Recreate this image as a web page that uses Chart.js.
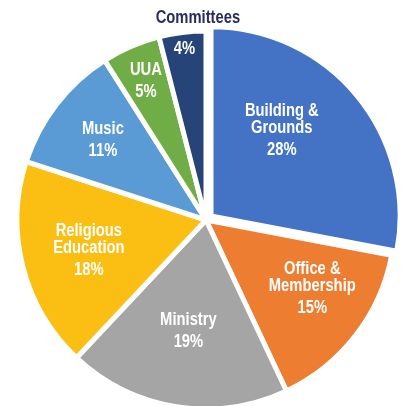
<!DOCTYPE html>
<html>
<head>
<meta charset="utf-8">
<script src="https://cdn.jsdelivr.net/npm/chart.js@4"></script>
<style>
  html, body { margin: 0; padding: 0; background: #fff; }
  #wrap { width: 402px; height: 406px; }
</style>
</head>
<body>
<div id="wrap"><canvas id="budgetPie"></canvas></div>
<script>
const categories = ['Building & Grounds', 'Office & Membership', 'Ministry', 'Religious Education', 'Music', 'UUA', 'Committees'];
const shares = [28, 15, 19, 18, 11, 5, 4];
const nameLines = [['Building &', 'Grounds'], ['Office &', 'Membership'], ['Ministry'], ['Religious', 'Education'], ['Music'], ['UUA'], ['Committees']];
const sliceColors = ['#4472c4', '#ed7d31', '#a5a5a5', '#fbbf14', '#5b9bd5', '#70ad47', '#264478'];

// where each label sits: fraction of radius, fraction along the slice
const labelRadius = [0.62, 0.67, 0.595, 0.64, 0.69, 0.80, 0.91];
const labelAlong = [0.40, 0.41, 0.5, 0.5, 0.5, 0.5, 0.5];
const nameOutside = [false, false, false, false, false, false, true];

const FONT = "bold 18px 'Liberation Sans', Arial, sans-serif";
const SQUEEZE = 0.82; // fake a condensed face

function narrowText(ctx, text, x, y) {
    ctx.save();
    ctx.translate(x, y);
    ctx.scale(SQUEEZE, 1);
    ctx.fillText(text, 0, 0);
    ctx.restore();
}

const sliceLabels = {
    id: 'sliceLabels',
    afterDatasetsDraw(chart) {
        const ctx = chart.ctx;
        const arcs = chart.getDatasetMeta(0).data;
        ctx.save();
        ctx.font = FONT;
        ctx.textAlign = 'center';
        ctx.textBaseline = 'middle';
        arcs.forEach((arc, i) => {
            const a = arc.startAngle + labelAlong[i] * (arc.endAngle - arc.startAngle);
            const r = arc.outerRadius * labelRadius[i];
            const cx = arc.x + Math.cos(a) * r;
            const cy = arc.y + Math.sin(a) * r;
            const pct = shares[i] + '%';
            if (nameOutside[i]) {
                ctx.fillStyle = '#fff';
                narrowText(ctx, pct, cx, cy);
                const a2 = arc.startAngle + 0.84 * (arc.endAngle - arc.startAngle);
                const r2 = arc.outerRadius * 1.07;
                ctx.fillStyle = '#2b2c5e';
                narrowText(ctx, nameLines[i].join(' '), arc.x + Math.cos(a2) * r2, arc.y + Math.sin(a2) * r2);
                return;
            }
            const lines = nameLines[i];
            const total = (lines.length - 1) * 17 + 22;
            let y = cy - total / 2;
            ctx.fillStyle = '#fff';
            lines.forEach(t => {
                narrowText(ctx, t, cx, y);
                y += 17;
            });
            narrowText(ctx, pct, cx, y + 5);
        });
        ctx.restore();
    }
};

new Chart(document.getElementById('budgetPie'), {
    type: 'pie',
    data: {
        labels: categories,
        datasets: [{
            data: shares,
            backgroundColor: sliceColors,
            borderColor: '#fff',
            borderWidth: 5,
            radius: 189,
            offset: [26, 0, 0, 0, 0, 0, 0]
        }]
    },
    options: {
        responsive: true,
        maintainAspectRatio: false,
        animation: false,
        layout: { padding: { left: 10, right: 0, top: 34, bottom: 0 } },
        plugins: {
            legend: { display: false },
            tooltip: { enabled: false }
        }
    },
    plugins: [sliceLabels]
});
</script>
</body>
</html>
